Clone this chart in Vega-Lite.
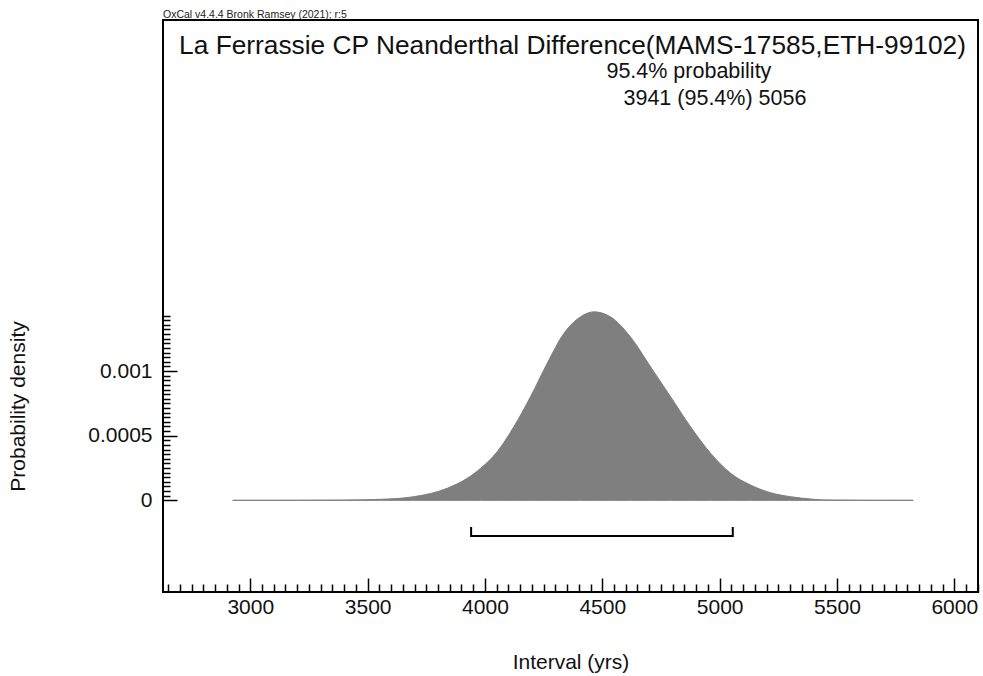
{
  "$schema": "https://vega.github.io/schema/vega-lite/v6.json",
  "width": 815,
  "height": 572,
  "autosize": {"type": "none"},
  "padding": {"left": 163, "top": 20, "right": 5, "bottom": 84},
  "background": "white",
  "title": {"text": "OxCal v4.4.4 Bronk Ramsey (2021); r:5", "anchor": "start", "frame": "group", "fontSize": 10.5, "fontWeight": "normal", "font": "Liberation Sans", "color": "#222222", "offset": 0},
  "config": {
    "font": "Liberation Sans",
    "view": {"stroke": "black", "strokeWidth": 2},
    "axis": {"grid": false, "domain": false, "labelColor": "#111111", "titleColor": "#111111", "tickColor": "black", "labelFontSize": 21, "titleFontSize": 21, "titleFontWeight": "normal", "labelOverlap": false, "labelFlush": false, "labelBound": false, "tickWidth": 1.5}
  },
  "datasets": {
    "curve": [
      {"year": 2925, "density": 0},
      {"year": 3200, "density": 0.0000005},
      {"year": 3400, "density": 0.000002},
      {"year": 3554, "density": 0.0000077},
      {"year": 3696, "density": 0.000028},
      {"year": 3839, "density": 0.000093},
      {"year": 3924, "density": 0.00017},
      {"year": 3981, "density": 0.000247},
      {"year": 4052, "density": 0.000376},
      {"year": 4123, "density": 0.000569},
      {"year": 4194, "density": 0.000801},
      {"year": 4265, "density": 0.001059},
      {"year": 4336, "density": 0.00129},
      {"year": 4407, "density": 0.001419},
      {"year": 4464, "density": 0.001458},
      {"year": 4535, "density": 0.001419},
      {"year": 4620, "density": 0.001264},
      {"year": 4706, "density": 0.001032},
      {"year": 4791, "density": 0.000801},
      {"year": 4876, "density": 0.000569},
      {"year": 4962, "density": 0.000363},
      {"year": 5047, "density": 0.000209},
      {"year": 5132, "density": 0.000118},
      {"year": 5217, "density": 0.000059},
      {"year": 5303, "density": 0.000028},
      {"year": 5388, "density": 0.00001},
      {"year": 5443, "density": 0.000003},
      {"year": 5600, "density": 0.0000005},
      {"year": 5825, "density": 0}
    ],
    "range": [
      {"year": 3941, "density": -0.000206, "step": 1},
      {"year": 3941, "density": -0.000276, "step": 2},
      {"year": 5056, "density": -0.000276, "step": 3},
      {"year": 5056, "density": -0.000206, "step": 4}
    ],
    "notes": [
      {"label": "La Ferrassie CP Neanderthal Difference(MAMS-17585,ETH-99102)", "year": 4373, "density": 0.003513, "kind": "title"},
      {"label": "95.4% probability", "year": 4869, "density": 0.003312, "kind": "sub"},
      {"label": "3941 (95.4%) 5056", "year": 4980, "density": 0.003104, "kind": "sub"}
    ]
  },
  "encoding": {
    "x": {
      "field": "year", "type": "quantitative",
      "scale": {"domain": [2628, 6101], "nice": false, "zero": false},
      "axis": {
        "title": "Interval (yrs)",
        "titleY": 59,
        "values": [2650,2700,2750,2800,2850,2900,2950,3000,3050,3100,3150,3200,3250,3300,3350,3400,3450,3500,3550,3600,3650,3700,3750,3800,3850,3900,3950,4000,4050,4100,4150,4200,4250,4300,4350,4400,4450,4500,4550,4600,4650,4700,4750,4800,4850,4900,4950,5000,5050,5100,5150,5200,5250,5300,5350,5400,5450,5500,5550,5600,5650,5700,5750,5800,5850,5900,5950,6000,6050,6100],
        "format": "d",
        "labelExpr": "datum.value % 500 === 0 ? datum.label : ''",
        "tickSize": {"condition": {"test": "datum.value % 500 === 0", "value": -14}, "value": -8},
        "labelPadding": 18
      }
    },
    "y": {
      "field": "density", "type": "quantitative",
      "scale": {"domain": [-0.000709, 0.003715], "nice": false, "zero": false},
      "axis": {
        "title": "Probability density",
        "titleX": -135,
        "titleY": 386,
        "values": [0,0.0000357143,0.0000714286,0.000107143,0.000142857,0.000178571,0.000214286,0.00025,0.000285714,0.000321429,0.000357143,0.000392857,0.000428571,0.000464286,0.0005,0.000535714,0.000571429,0.000607143,0.000642857,0.000678571,0.000714286,0.00075,0.000785714,0.000821429,0.000857143,0.000892857,0.000928571,0.000964286,0.001,0.00103571,0.00107143,0.00110714,0.00114286,0.00117857,0.00121429,0.00125,0.00128571,0.00132143,0.00135714,0.00139286,0.00142857],
        "labelExpr": "(datum.value === 0 || datum.value === 0.0005 || datum.value === 0.001) ? format(datum.value, '~g') : ''",
        "tickSize": {"condition": {"test": "datum.value === 0 || datum.value === 0.0005 || datum.value === 0.001", "value": -14}, "value": -7},
        "labelPadding": 25
      }
    }
  },
  "layer": [
    {
      "data": {"name": "curve"},
      "mark": {"type": "area", "color": "#7f7f7f", "stroke": "#7f7f7f", "strokeWidth": 1, "interpolate": "monotone", "opacity": 1}
    },
    {
      "data": {"name": "range"},
      "mark": {"type": "line", "color": "black", "strokeWidth": 2},
      "encoding": {"order": {"field": "step", "type": "quantitative"}}
    },
    {
      "data": {"name": "notes"},
      "transform": [{"filter": "datum.kind === 'title'"}],
      "mark": {"type": "text", "fontSize": 26.3, "color": "#111111", "align": "center", "baseline": "middle"},
      "encoding": {"text": {"field": "label"}}
    },
    {
      "data": {"name": "notes"},
      "transform": [{"filter": "datum.kind === 'sub'"}],
      "mark": {"type": "text", "fontSize": 21.5, "color": "#111111", "align": "center", "baseline": "middle"},
      "encoding": {"text": {"field": "label"}}
    }
  ]
}
